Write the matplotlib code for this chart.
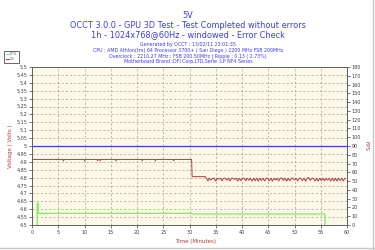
import matplotlib
matplotlib.use("Agg")
import matplotlib.pyplot as plt
from matplotlib.patches import Rectangle
from matplotlib.lines import Line2D

# reference 5V line
ref_t = [0, 60]
ref_v = [5.0, 5.0]

# measured 5V (volts), first part of the run
v1_t = [0, 5.9, 6.0, 6.1, 9.9, 10.0, 10.1, 12.4, 12.5, 12.7, 12.9, 13.0, 13.1,
        15.9, 16.0, 16.1, 20.9, 21.0, 21.1, 23.4, 23.5, 23.6, 26.9, 27.0, 27.1,
        30.4, 30.5, 33.0]
v1_v = [4.915, 4.915, 4.906, 4.915, 4.915, 4.906, 4.915, 4.915, 4.907, 4.915, 4.915, 4.907, 4.915,
        4.915, 4.906, 4.915, 4.915, 4.907, 4.915, 4.915, 4.906, 4.915, 4.915, 4.906, 4.915,
        4.915, 4.806, 4.806]

# second part: noisy readings every ~0.3 min from 33.2 min
v2_v = [4.796, 4.780, 4.796, 4.785, 4.796, 4.796, 4.778, 4.796, 4.790, 4.796,
        4.780, 4.796, 4.796, 4.784, 4.796, 4.779, 4.796, 4.796, 4.788, 4.796,
        4.778, 4.796, 4.781, 4.796, 4.796, 4.779, 4.796, 4.784, 4.796, 4.778,
        4.796, 4.780, 4.796, 4.778, 4.796, 4.782, 4.796, 4.779, 4.796, 4.796,
        4.780, 4.796, 4.778, 4.796, 4.785, 4.796, 4.779, 4.796, 4.796, 4.782,
        4.796, 4.778, 4.796, 4.780, 4.796, 4.796, 4.786, 4.796, 4.779, 4.796,
        4.796, 4.781, 4.796, 4.778, 4.796, 4.800, 4.783, 4.796, 4.796, 4.779,
        4.796, 4.778, 4.796, 4.781, 4.796, 4.779, 4.796, 4.784, 4.796, 4.778,
        4.796, 4.780, 4.796, 4.778, 4.796, 4.782, 4.796, 4.779, 4.796]
v2_t = [33.2 + 0.3 * i for i in range(len(v2_v))]

# FPS
fps_t = [1.0, 1.0, 1.2, 1.2, 30.4, 30.5, 55.8, 55.8]
fps_v = [0, 25, 25, 13.3, 13.3, 12.6, 12.6, 0]

title_lines = ["5V",
               "OCCT 3.0.0 - GPU 3D Test - Test Completed without errors",
               "1h - 1024x768@60Hz - windowed - Error Check"]
info_lines = ["Generated by OCCT : 13/02/11 23:01:35",
              "CPU : AMD Athlon(tm) 64 Processor 3700+ ( San Diego ) 2200 MHz FSB 200MHz",
              "Overclock : 2210.27 MHz ; FSB 200.50MHz | Ripple : 0.13 ( 2.73%)",
              "Motherboard Brand :DFI Corp,LTD,Serie :LP NF4 Series"]

blue = "#3c3cf0"
red = "#b03c3c"
green = "#7cf060"

fig = plt.figure(figsize=(3.75, 2.5), dpi=100)
fig.patch.set_facecolor("white")
W, H = 375, 250
ax = fig.add_axes([32 / W, 1 - 225 / H, 315 / W, 158 / H])
ax.set_facecolor("#fdf8e8")

ax.plot(ref_t, ref_v, color=blue, lw=0.9)
ax.plot(v1_t + v2_t, v1_v + v2_v, color=red, lw=0.7)
ax.set_xlim(0, 60)
ax.set_ylim(4.5, 5.5)
ax.set_xticks(range(0, 61, 5))
ax.set_yticks([4.5 + 0.05 * i for i in range(21)])
ax.set_yticklabels([("%.2f" % (4.5 + 0.05 * i)).rstrip("0").rstrip(".") for i in range(21)])
ax.grid(True, color="#a0a0a0", ls=(0, (3, 3)), lw=0.5)
ax.tick_params(labelsize=3.5, length=2, width=0.5, pad=1.5, colors="#404040")
ax.set_ylabel("Voltage ( Volts )", color=red, fontsize=4, labelpad=2)
ax.set_xlabel("Time (Minutes)", color=red, fontsize=4, labelpad=2)
ax.xaxis.set_label_coords(0.52, -0.09)
for s in ax.spines.values():
    s.set_linewidth(0.6)
    s.set_color("#606060")

ax2 = ax.twinx()
ax2.plot(fps_t, fps_v, color=green, lw=0.9)
ax2.set_ylim(0, 180)
ax2.set_yticks(range(0, 181, 10))
ax2.tick_params(labelsize=3.5, length=2, width=0.5, pad=1.5, colors="#404040")
ax2.set_ylabel("FPS", color=red, fontsize=4, rotation=270, labelpad=5)
for s in ax2.spines.values():
    s.set_linewidth(0.6)
    s.set_color("#606060")

# titles
ys = [15, 25, 35]
for txt, y in zip(title_lines, ys):
    fig.text(188 / W, 1 - y / H, txt, color=blue, fontsize=5.9, ha="center", va="center")
for i, txt in enumerate(info_lines):
    fig.text(188 / W, 1 - (45 + 5.6 * i) / H, txt, color=blue, fontsize=3.45, ha="center", va="center")

# legend box
fig.patches.append(Rectangle((4 / W, 1 - 63 / H), 15 / W, 12 / H, transform=fig.transFigure,
                             facecolor="white", edgecolor="#505050", lw=0.6))
fig.lines.append(Line2D([6 / W, 8.5 / W], [1 - 54 / H] * 2, transform=fig.transFigure, color=green, lw=0.7))
fig.lines.append(Line2D([6 / W, 8.5 / W], [1 - 59 / H] * 2, transform=fig.transFigure, color=red, lw=0.7))
fig.text(9.5 / W, 1 - 54 / H, "FPS", fontsize=2.8, va="center", color="#707070")
fig.text(9.5 / W, 1 - 59 / H, "5V", fontsize=2.8, va="center", color="#707070")

# outer frame lines
fig.lines.append(Line2D([0, 1], [1 - 248 / H] * 2, transform=fig.transFigure, color="#c8c8c8", lw=1))
fig.lines.append(Line2D([373 / W] * 2, [0, 1], transform=fig.transFigure, color="#c8c8c8", lw=1))

fig.savefig("out.png", dpi=100)
